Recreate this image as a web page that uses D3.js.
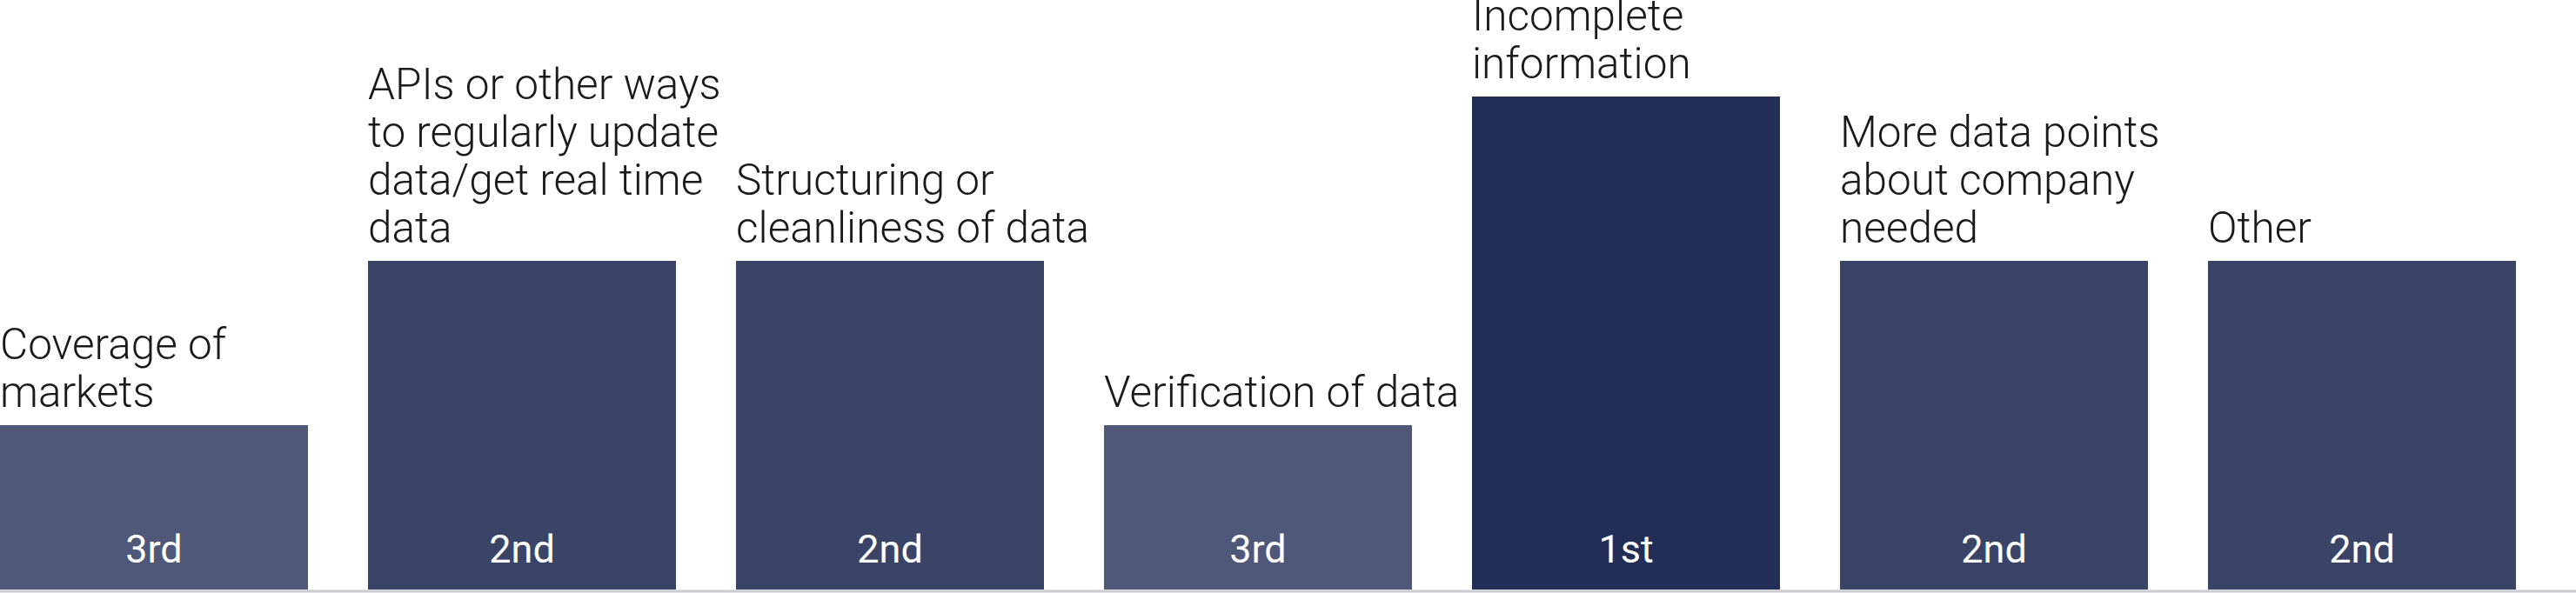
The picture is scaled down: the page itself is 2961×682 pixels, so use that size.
<!DOCTYPE html>
<html>
    <head>
        <title>data issues ranking</title>
        <script src="https://d3js.org/d3.v7.min.js"></script>
    </head>

    <body>
        <div id="chart"></div>
    </body>

    <script>
        // the chart data
        var categories = ["Coverage of markets", "APIs or other ways to regularly update data/get real time data",
            "Structuring or cleanliness of data", "Verification of data", "Incomplete information",
            "More data points about company needed", "Other"]
        var labelLines = [
            ["Coverage of", "markets"],
            ["APIs or other ways", "to regularly update", "data/get real time", "data"],
            ["Structuring or", "cleanliness of data"],
            ["Verification of data"],
            ["Incomplete", "information"],
            ["More data points", "about company", "needed"],
            ["Other"]
        ]
        var scores = [1, 2, 2, 1, 3, 2, 2]
        var rankLabels = ["3rd", "2nd", "2nd", "3rd", "1st", "2nd", "2nd"]
        var rankColors = {"1st": "#232e57", "2nd": "#3a4467", "3rd": "#4f5878"}

        var width = 2961
        var height = 682
        var base = 678

        var svg = d3.select("#chart")
        .append("svg")
        .attr("width", width)
        .attr("height", height)

        var x = d3.scaleBand()
        .domain(categories)
        .range([0, width])
        .paddingInner(69 / 423)
        .paddingOuter(69 / 846)
        .align(0)

        var y = d3.scaleLinear()
        .domain([0, 3])
        .range([base, 111])

        var data = categories.map(function(c, i) {
            return {cat: c, lines: labelLines[i], score: scores[i], rank: rankLabels[i]}
        })

        // bars
        svg.selectAll(".bar")
        .data(data)
        .enter()
        .append("rect")
        .attr("x", function(d) { return x(d.cat) })
        .attr("y", function(d) { return y(d.score) })
        .attr("width", x.bandwidth())
        .attr("height", function(d) { return y(0) - y(d.score) })
        .attr("fill", function(d) { return rankColors[d.rank] })

        // baseline
        svg.append("line")
        .attr("x1", 0)
        .attr("x2", width)
        .attr("y1", 680)
        .attr("y2", 680)
        .attr("stroke", "#c8cad0")
        .attr("stroke-width", 3)

        // rank inside the bar
        svg.selectAll(".rank")
        .data(data)
        .enter()
        .append("text")
        .attr("x", function(d) { return x(d.cat) + x.bandwidth() / 2 })
        .attr("y", base - 31)
        .attr("text-anchor", "middle")
        .attr("fill", "#ffffff")
        .style("font-family", "Roboto, sans-serif")
        .style("font-size", "45px")
        .text(function(d) { return d.rank })

        // category labels above the bar
        var lineH = 55
        var labels = svg.selectAll(".lab")
        .data(data)
        .enter()
        .append("text")
        .attr("fill", "#1a1a1a")
        .style("font-family", "Roboto, sans-serif")
        .style("font-weight", 300)
        .style("font-size", "49.5px")

        labels.selectAll("tspan")
        .data(function(d) {
            return d.lines.map(function(l, j) {
                return {t: l, x: x(d.cat), y: y(d.score) - 21 - (d.lines.length - 1 - j) * lineH}
            })
        })
        .enter()
        .append("tspan")
        .attr("x", function(d) { return d.x })
        .attr("y", function(d) { return d.y })
        .text(function(d) { return d.t })
    </script>

    <style>
        body { margin: 0; background: #ffffff; }
    </style>
</html>
